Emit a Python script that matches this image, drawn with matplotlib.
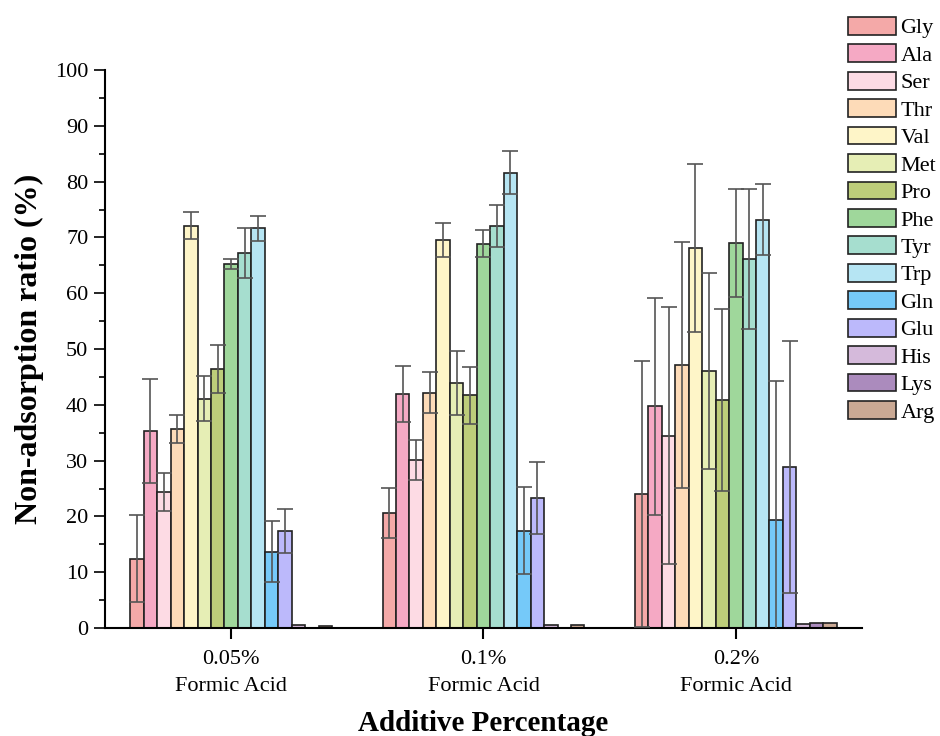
import numpy as np
import matplotlib
matplotlib.use("Agg")
import matplotlib.pyplot as plt

plt.rcParams['font.family'] = ['Liberation Serif', 'DejaVu Serif']

groups = ["0.05%\nFormic Acid", "0.1%\nFormic Acid", "0.2%\nFormic Acid"]
amino = ["Gly", "Ala", "Ser", "Thr", "Val", "Met", "Pro", "Phe", "Tyr", "Trp",
         "Gln", "Glu", "His", "Lys", "Arg"]
colors = ["#F4A9A8", "#F5A9C4", "#FDDBE4", "#FDDBB8", "#FEF5C8", "#E6EEB5",
          "#BDCD7A", "#9FD79B", "#A6DECF", "#B6E5F3", "#75C9F9", "#BCB9FB",
          "#D5BADB", "#AB8BBD", "#CAA994"]

# mean values per group (rows = amino acids, columns = 0.05%, 0.1%, 0.2%)
means = [
    [12.4, 20.6, 24.0],   # Gly
    [35.3, 41.9, 39.7],   # Ala
    [24.3, 30.1, 34.5],   # Ser
    [35.7, 42.2, 47.1],   # Thr
    [72.1, 69.5, 68.1],   # Val
    [41.1, 43.9, 46.1],   # Met
    [46.4, 41.7, 40.9],   # Pro
    [65.2, 68.9, 69.0],   # Phe
    [67.2, 72.0, 66.1],   # Tyr
    [71.6, 81.6, 73.2],   # Trp
    [13.7, 17.4, 19.4],   # Gln
    [17.4, 23.3, 28.9],   # Glu
    [0.6, 0.5, 0.7],      # His
    [0.0, 0.0, 0.95],     # Lys
    [0.35, 0.55, 0.85],   # Arg
]
errs = [
    [7.8, 4.5, 23.8],
    [9.4, 5.0, 19.4],
    [3.4, 3.6, 23.0],
    [2.5, 3.7, 22.0],
    [2.4, 3.1, 15.1],
    [4.0, 5.8, 17.6],
    [4.3, 5.1, 16.3],
    [0.9, 2.4, 9.6],
    [4.5, 3.8, 12.5],
    [2.2, 3.8, 6.4],
    [5.4, 7.8, 24.9],
    [4.0, 6.4, 22.6],
    [0.0, 0.0, 0.0],
    [0.0, 0.0, 0.0],
    [0.0, 0.0, 0.0],
]

fig = plt.figure(figsize=(9.4, 7.36), dpi=100)
ax = fig.add_axes([0.1117, 0.1467, 0.917 - 0.1117, 0.9049 - 0.1467])

x = np.arange(len(groups))
n = len(amino)
w = 0.8 / n

for i in range(n):
    pos = x - 0.4 + w * (i + 0.5)
    ax.bar(pos, means[i], width=w, color=colors[i], edgecolor="#222222",
           linewidth=1.2, label=amino[i], zorder=2)
    if max(errs[i]) > 0:
        ax.errorbar(pos, means[i], yerr=errs[i], fmt="none", ecolor="#555555",
                    elinewidth=1.2, capsize=6, capthick=1.2, zorder=3)

ax.set_xlim(-0.5, 2.5)
ax.set_ylim(0, 100)
ax.set_xticks(x)
ax.set_xticklabels(groups, fontsize=16, linespacing=1.55)
ax.set_yticks(np.arange(0, 101, 10))
ax.set_yticks(np.arange(0, 101, 5), minor=True)
ax.tick_params(axis="y", which="major", direction="out", length=8, width=1.2, labelsize=16, pad=4)
ax.tick_params(axis="y", which="minor", direction="out", length=4, width=1.2)
ax.tick_params(axis="x", direction="out", length=8, width=1.5, pad=8)

ax.spines["top"].set_visible(False)
ax.spines["right"].set_visible(False)
ax.spines["left"].set_linewidth(1.5)
ax.spines["bottom"].set_linewidth(1.5)

ax.set_ylabel("Non-adsorption ratio (%)", fontsize=23, fontweight="bold", labelpad=8)
ax.set_xlabel("Additive Percentage", fontsize=21, fontweight="bold", labelpad=10)

fig.legend(loc="upper left", bbox_to_anchor=(0.902, 0.977), frameon=False,
           fontsize=16, handlelength=2.15, handleheight=0.85, labelspacing=0.265,
           handletextpad=0.22, borderpad=0, borderaxespad=0)

fig.savefig("out.png", dpi=100)
